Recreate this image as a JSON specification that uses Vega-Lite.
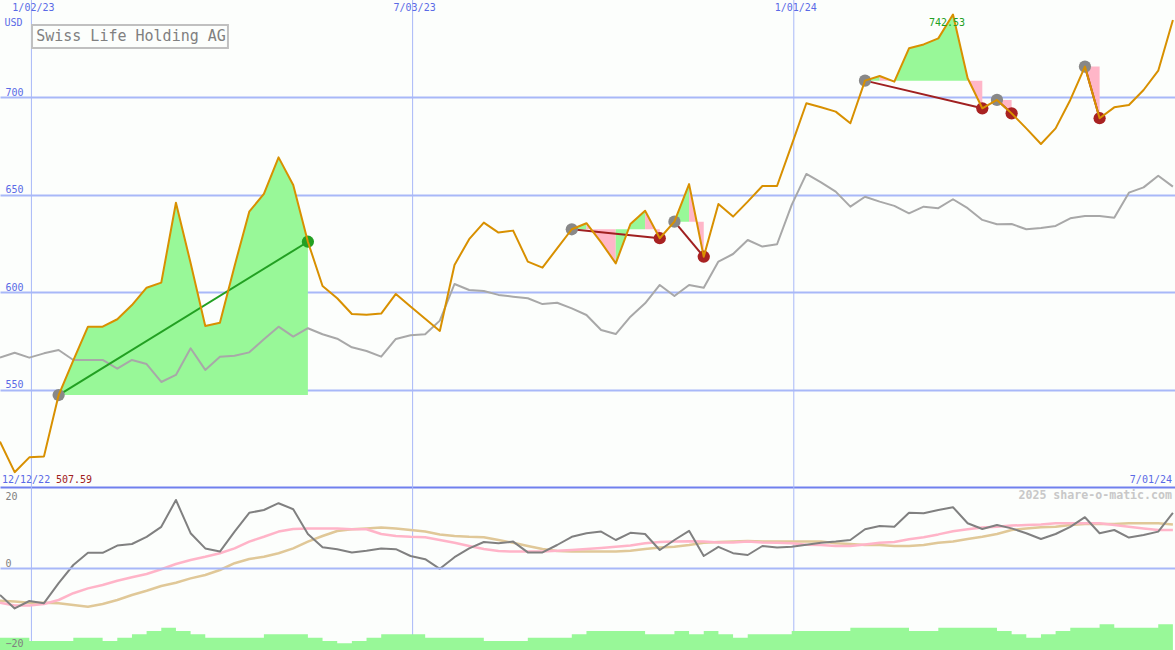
{
  "$schema": "https://vega.github.io/schema/vega-lite/v6.json",
  "width": 1175,
  "height": 650,
  "padding": 0,
  "autosize": {"type": "none"},
  "background": "#fcfefc",
  "config": {
    "view": {"stroke": null},
    "axis": {"labelFont": "DejaVu Sans Mono", "labelFontSize": 10, "labelColor": "#5a6ae6", "domain": false, "ticks": false, "titleFont": "DejaVu Sans Mono"},
    "text": {"font": "DejaVu Sans Mono"},
    "line": {"strokeJoin": "round"},
    "scale": {"continuousPadding": 0}
  },
  "datasets": {
    "main": [
      {"date": "2022-12-18", "p": 523.3, "cmp": 566.4, "m": -6.75, "ma1": -8.7, "ma2": -8.2, "vol": 12.3},
      {"date": "2022-12-25", "p": 507.59, "cmp": 568.9, "m": -10.1, "ma1": -9.4, "ma2": -8.4, "vol": 12.3},
      {"date": "2023-01-01", "p": 515.2, "cmp": 566.4, "m": -8.25, "ma1": -9.4, "ma2": -8.7, "vol": 9},
      {"date": "2023-01-08", "p": 515.7, "cmp": 568.6, "m": -8.8, "ma1": -9, "ma2": -8.7, "vol": 9},
      {"date": "2023-01-15", "p": 547.2, "cmp": 570.3, "m": -3.8, "ma1": -8, "ma2": -8.8, "vol": 9},
      {"date": "2023-01-22", "p": 565, "cmp": 565.2, "m": 0.75, "ma1": -6.3, "ma2": -9.25, "vol": 12.3},
      {"date": "2023-01-29", "p": 582.3, "cmp": 565.2, "m": 3.8, "ma1": -5.1, "ma2": -9.7, "vol": 12.3},
      {"date": "2023-02-05", "p": 582.3, "cmp": 565.2, "m": 3.8, "ma1": -4.25, "ma2": -9, "vol": 9},
      {"date": "2023-02-12", "p": 586.1, "cmp": 560.7, "m": 5.6, "ma1": -3.2, "ma2": -8, "vol": 12.3},
      {"date": "2023-02-19", "p": 593.4, "cmp": 565.2, "m": 6, "ma1": -2.3, "ma2": -6.75, "vol": 15.7},
      {"date": "2023-02-26", "p": 602.3, "cmp": 563.1, "m": 7.8, "ma1": -1.5, "ma2": -5.7, "vol": 19},
      {"date": "2023-03-05", "p": 604.9, "cmp": 553.9, "m": 10.3, "ma1": -0.3, "ma2": -4.5, "vol": 22.3},
      {"date": "2023-03-12", "p": 645.9, "cmp": 557.5, "m": 17, "ma1": 1, "ma2": -3.7, "vol": 19},
      {"date": "2023-03-19", "p": 615, "cmp": 571.2, "m": 8.7, "ma1": 2, "ma2": -2.6, "vol": 15.7},
      {"date": "2023-03-26", "p": 582.6, "cmp": 560.1, "m": 4.9, "ma1": 2.8, "ma2": -1.75, "vol": 12.3},
      {"date": "2023-04-02", "p": 584.3, "cmp": 566.9, "m": 4.1, "ma1": 3.7, "ma2": -0.5, "vol": 12.3},
      {"date": "2023-04-09", "p": 613.5, "cmp": 567.4, "m": 9.1, "ma1": 4.9, "ma2": 1.2, "vol": 12.3},
      {"date": "2023-04-16", "p": 641.3, "cmp": 569.1, "m": 13.8, "ma1": 6.6, "ma2": 2.25, "vol": 12.3},
      {"date": "2023-04-23", "p": 650.5, "cmp": 575.8, "m": 14.5, "ma1": 7.8, "ma2": 2.8, "vol": 15.7},
      {"date": "2023-04-30", "p": 669.2, "cmp": 582.3, "m": 16.2, "ma1": 9.1, "ma2": 3.7, "vol": 15.7},
      {"date": "2023-05-07", "p": 655, "cmp": 577.2, "m": 14.7, "ma1": 9.75, "ma2": 4.9, "vol": 15.7},
      {"date": "2023-05-14", "p": 625.9, "cmp": 581.5, "m": 8.5, "ma1": 9.9, "ma2": 6.6, "vol": 12.3},
      {"date": "2023-05-21", "p": 603.2, "cmp": 578.4, "m": 5.2, "ma1": 9.9, "ma2": 8, "vol": 9},
      {"date": "2023-05-28", "p": 596.9, "cmp": 576.1, "m": 4.7, "ma1": 9.9, "ma2": 9.25, "vol": 6.7},
      {"date": "2023-06-04", "p": 588.8, "cmp": 571.7, "m": 3.9, "ma1": 9.7, "ma2": 9.7, "vol": 9},
      {"date": "2023-06-11", "p": 588.4, "cmp": 569.8, "m": 4.3, "ma1": 9.7, "ma2": 9.9, "vol": 12.3},
      {"date": "2023-06-18", "p": 589, "cmp": 566.9, "m": 4.9, "ma1": 8.5, "ma2": 10.1, "vol": 15.7},
      {"date": "2023-06-25", "p": 599.1, "cmp": 576, "m": 4.7, "ma1": 8, "ma2": 9.9, "vol": 15.7},
      {"date": "2023-07-02", "p": 592.6, "cmp": 577.9, "m": 3, "ma1": 7.8, "ma2": 9.5, "vol": 15.7},
      {"date": "2023-07-09", "p": 586.4, "cmp": 578.4, "m": 2.2, "ma1": 7.7, "ma2": 9.1, "vol": 12.3},
      {"date": "2023-07-16", "p": 580.1, "cmp": 585.4, "m": -0.2, "ma1": 7, "ma2": 8.4, "vol": 12.3},
      {"date": "2023-07-23", "p": 614, "cmp": 604.2, "m": 2.7, "ma1": 6.3, "ma2": 8, "vol": 12.3},
      {"date": "2023-07-30", "p": 627.2, "cmp": 601.1, "m": 4.9, "ma1": 5.5, "ma2": 7.8, "vol": 12.3},
      {"date": "2023-08-06", "p": 635.7, "cmp": 600.6, "m": 6.5, "ma1": 4.75, "ma2": 7.7, "vol": 9},
      {"date": "2023-08-13", "p": 630.6, "cmp": 598.6, "m": 6.2, "ma1": 4.25, "ma2": 7, "vol": 9},
      {"date": "2023-08-20", "p": 631.6, "cmp": 597.7, "m": 6.6, "ma1": 4.1, "ma2": 6.3, "vol": 9},
      {"date": "2023-08-27", "p": 615.7, "cmp": 596.9, "m": 3.9, "ma1": 4.1, "ma2": 5.5, "vol": 12.3},
      {"date": "2023-09-03", "p": 612.6, "cmp": 593.9, "m": 3.9, "ma1": 4.1, "ma2": 4.75, "vol": 12.3},
      {"date": "2023-09-10", "p": 622.5, "cmp": 594.6, "m": 5.75, "ma1": 4.3, "ma2": 4.25, "vol": 12.3},
      {"date": "2023-09-17", "p": 632.3, "cmp": 591.7, "m": 7.8, "ma1": 4.5, "ma2": 4.1, "vol": 15.7},
      {"date": "2023-09-24", "p": 635.4, "cmp": 588.3, "m": 8.7, "ma1": 4.75, "ma2": 4.1, "vol": 19},
      {"date": "2023-10-01", "p": 625.6, "cmp": 580.6, "m": 9.1, "ma1": 5, "ma2": 4.1, "vol": 19},
      {"date": "2023-10-08", "p": 614.8, "cmp": 578.5, "m": 7, "ma1": 5.3, "ma2": 4.1, "vol": 19},
      {"date": "2023-10-15", "p": 635, "cmp": 587.4, "m": 8.8, "ma1": 5.6, "ma2": 4.3, "vol": 19},
      {"date": "2023-10-22", "p": 641.8, "cmp": 594.3, "m": 8.5, "ma1": 6.2, "ma2": 4.75, "vol": 15.7},
      {"date": "2023-10-29", "p": 627.7, "cmp": 603.7, "m": 4.5, "ma1": 6.5, "ma2": 5.1, "vol": 15.7},
      {"date": "2023-11-05", "p": 636.2, "cmp": 598, "m": 7, "ma1": 6.6, "ma2": 5.3, "vol": 19},
      {"date": "2023-11-12", "p": 655.5, "cmp": 603.7, "m": 9.3, "ma1": 6.7, "ma2": 5.75, "vol": 15.7},
      {"date": "2023-11-19", "p": 618.2, "cmp": 602.3, "m": 3, "ma1": 6.6, "ma2": 6.3, "vol": 19},
      {"date": "2023-11-26", "p": 645.3, "cmp": 615.7, "m": 5.3, "ma1": 6.4, "ma2": 6.5, "vol": 15.7},
      {"date": "2023-12-03", "p": 638.8, "cmp": 619.6, "m": 3.7, "ma1": 6.4, "ma2": 6.6, "vol": 12.3},
      {"date": "2023-12-10", "p": 646.5, "cmp": 626.8, "m": 3.25, "ma1": 6.6, "ma2": 6.75, "vol": 15.7},
      {"date": "2023-12-17", "p": 654.5, "cmp": 623.4, "m": 5.5, "ma1": 6.4, "ma2": 6.6, "vol": 15.7},
      {"date": "2023-12-24", "p": 654.5, "cmp": 624.6, "m": 5.1, "ma1": 6.3, "ma2": 6.6, "vol": 15.7},
      {"date": "2023-12-31", "p": 675.6, "cmp": 644.8, "m": 5.3, "ma1": 6.2, "ma2": 6.6, "vol": 19},
      {"date": "2024-01-07", "p": 697, "cmp": 660.7, "m": 5.8, "ma1": 5.8, "ma2": 6.6, "vol": 19},
      {"date": "2024-01-14", "p": 694.9, "cmp": 656.4, "m": 6.3, "ma1": 5.75, "ma2": 6.6, "vol": 19},
      {"date": "2024-01-21", "p": 692.7, "cmp": 651.6, "m": 6.6, "ma1": 5.5, "ma2": 6.2, "vol": 19},
      {"date": "2024-01-28", "p": 686.7, "cmp": 643.9, "m": 7, "ma1": 5.5, "ma2": 6, "vol": 22.3},
      {"date": "2024-02-04", "p": 708.6, "cmp": 649, "m": 9.7, "ma1": 5.9, "ma2": 5.75, "vol": 22.3},
      {"date": "2024-02-11", "p": 711, "cmp": 646.5, "m": 10.5, "ma1": 6.3, "ma2": 5.75, "vol": 22.3},
      {"date": "2024-02-18", "p": 708.1, "cmp": 644.3, "m": 10.3, "ma1": 6.5, "ma2": 5.5, "vol": 22.3},
      {"date": "2024-02-25", "p": 725.2, "cmp": 640.5, "m": 13.8, "ma1": 7.2, "ma2": 5.5, "vol": 19},
      {"date": "2024-03-03", "p": 727.2, "cmp": 643.9, "m": 13.7, "ma1": 7.7, "ma2": 5.75, "vol": 19},
      {"date": "2024-03-10", "p": 730.3, "cmp": 643.1, "m": 14.5, "ma1": 8.4, "ma2": 6.3, "vol": 22.3},
      {"date": "2024-03-17", "p": 742.53, "cmp": 647.7, "m": 15.2, "ma1": 9.2, "ma2": 6.6, "vol": 22.3},
      {"date": "2024-03-24", "p": 709.8, "cmp": 643.1, "m": 11.2, "ma1": 9.7, "ma2": 7.25, "vol": 22.3},
      {"date": "2024-03-31", "p": 694.4, "cmp": 637.1, "m": 9.75, "ma1": 10.1, "ma2": 7.8, "vol": 22.3},
      {"date": "2024-04-07", "p": 698.7, "cmp": 634.9, "m": 10.75, "ma1": 10.3, "ma2": 8.5, "vol": 19},
      {"date": "2024-04-14", "p": 691.8, "cmp": 635, "m": 9.9, "ma1": 10.6, "ma2": 9.5, "vol": 15.7},
      {"date": "2024-04-21", "p": 684.1, "cmp": 632.3, "m": 8.7, "ma1": 10.75, "ma2": 9.9, "vol": 12.3},
      {"date": "2024-04-28", "p": 676.1, "cmp": 633, "m": 7.25, "ma1": 10.9, "ma2": 10.2, "vol": 15.7},
      {"date": "2024-05-05", "p": 684.1, "cmp": 634, "m": 8.5, "ma1": 11.2, "ma2": 10.3, "vol": 19},
      {"date": "2024-05-12", "p": 698.7, "cmp": 637.9, "m": 10.3, "ma1": 11.2, "ma2": 10.75, "vol": 22.3},
      {"date": "2024-05-19", "p": 715.8, "cmp": 639.1, "m": 12.7, "ma1": 11.2, "ma2": 11, "vol": 22.3},
      {"date": "2024-05-26", "p": 689.3, "cmp": 639.1, "m": 8.7, "ma1": 11.2, "ma2": 11, "vol": 25.7},
      {"date": "2024-06-02", "p": 694.9, "cmp": 638.2, "m": 9.5, "ma1": 10.75, "ma2": 11, "vol": 22.3},
      {"date": "2024-06-09", "p": 696.1, "cmp": 651.1, "m": 7.6, "ma1": 10.3, "ma2": 11.2, "vol": 22.3},
      {"date": "2024-06-16", "p": 703.8, "cmp": 653.8, "m": 8.25, "ma1": 9.9, "ma2": 11.2, "vol": 22.3},
      {"date": "2024-06-23", "p": 713.7, "cmp": 659.8, "m": 9.1, "ma1": 9.5, "ma2": 11.2, "vol": 25.7},
      {"date": "2024-06-30", "p": 739.7, "cmp": 654.2, "m": 13.8, "ma1": 9.5, "ma2": 10.9, "vol": 25.7}
    ],
    "fills": [
      {"seg": "t1", "dir": "up", "base": 547.2, "date": "2023-01-15", "p": 547.2},
      {"seg": "t1", "dir": "up", "base": 547.2, "date": "2023-01-22", "p": 565},
      {"seg": "t1", "dir": "up", "base": 547.2, "date": "2023-01-29", "p": 582.3},
      {"seg": "t1", "dir": "up", "base": 547.2, "date": "2023-02-05", "p": 582.3},
      {"seg": "t1", "dir": "up", "base": 547.2, "date": "2023-02-12", "p": 586.1},
      {"seg": "t1", "dir": "up", "base": 547.2, "date": "2023-02-19", "p": 593.4},
      {"seg": "t1", "dir": "up", "base": 547.2, "date": "2023-02-26", "p": 602.3},
      {"seg": "t1", "dir": "up", "base": 547.2, "date": "2023-03-05", "p": 604.9},
      {"seg": "t1", "dir": "up", "base": 547.2, "date": "2023-03-12", "p": 645.9},
      {"seg": "t1", "dir": "up", "base": 547.2, "date": "2023-03-19", "p": 615},
      {"seg": "t1", "dir": "up", "base": 547.2, "date": "2023-03-26", "p": 582.6},
      {"seg": "t1", "dir": "up", "base": 547.2, "date": "2023-04-02", "p": 584.3},
      {"seg": "t1", "dir": "up", "base": 547.2, "date": "2023-04-09", "p": 613.5},
      {"seg": "t1", "dir": "up", "base": 547.2, "date": "2023-04-16", "p": 641.3},
      {"seg": "t1", "dir": "up", "base": 547.2, "date": "2023-04-23", "p": 650.5},
      {"seg": "t1", "dir": "up", "base": 547.2, "date": "2023-04-30", "p": 669.2},
      {"seg": "t1", "dir": "up", "base": 547.2, "date": "2023-05-07", "p": 655},
      {"seg": "t1", "dir": "up", "base": 547.2, "date": "2023-05-14", "p": 625.9},
      {"seg": "t2a", "dir": "up", "base": 632.3, "date": "2023-09-17", "p": 632.3},
      {"seg": "t2a", "dir": "up", "base": 632.3, "date": "2023-09-24", "p": 635.4},
      {"seg": "t2b", "dir": "down", "base": 632.3, "date": "2023-09-24", "p": 635.4},
      {"seg": "t2b", "dir": "down", "base": 632.3, "date": "2023-10-01", "p": 625.6},
      {"seg": "t2b", "dir": "down", "base": 632.3, "date": "2023-10-08", "p": 614.8},
      {"seg": "t2c", "dir": "up", "base": 632.3, "date": "2023-10-08", "p": 614.8},
      {"seg": "t2c", "dir": "up", "base": 632.3, "date": "2023-10-15", "p": 635},
      {"seg": "t2c", "dir": "up", "base": 632.3, "date": "2023-10-22", "p": 641.8},
      {"seg": "t2d", "dir": "down", "base": 632.3, "date": "2023-10-22", "p": 641.8},
      {"seg": "t2d", "dir": "down", "base": 632.3, "date": "2023-10-29", "p": 627.7},
      {"seg": "t3a", "dir": "up", "base": 636.2, "date": "2023-11-05", "p": 636.2},
      {"seg": "t3a", "dir": "up", "base": 636.2, "date": "2023-11-12", "p": 655.5},
      {"seg": "t3b", "dir": "down", "base": 636.2, "date": "2023-11-12", "p": 655.5},
      {"seg": "t3b", "dir": "down", "base": 636.2, "date": "2023-11-19", "p": 618.2},
      {"seg": "t4a", "dir": "up", "base": 708.6, "date": "2024-02-04", "p": 708.6},
      {"seg": "t4a", "dir": "up", "base": 708.6, "date": "2024-02-11", "p": 711},
      {"seg": "t4b", "dir": "down", "base": 708.6, "date": "2024-02-11", "p": 711},
      {"seg": "t4b", "dir": "down", "base": 708.6, "date": "2024-02-18", "p": 708.1},
      {"seg": "t4c", "dir": "up", "base": 708.6, "date": "2024-02-18", "p": 708.1},
      {"seg": "t4c", "dir": "up", "base": 708.6, "date": "2024-02-25", "p": 725.2},
      {"seg": "t4c", "dir": "up", "base": 708.6, "date": "2024-03-03", "p": 727.2},
      {"seg": "t4c", "dir": "up", "base": 708.6, "date": "2024-03-10", "p": 730.3},
      {"seg": "t4c", "dir": "up", "base": 708.6, "date": "2024-03-17", "p": 742.53},
      {"seg": "t4c", "dir": "up", "base": 708.6, "date": "2024-03-24", "p": 709.8},
      {"seg": "t4d", "dir": "down", "base": 708.6, "date": "2024-03-24", "p": 709.8},
      {"seg": "t4d", "dir": "down", "base": 708.6, "date": "2024-03-31", "p": 694.4},
      {"seg": "t5", "dir": "down", "base": 698.7, "date": "2024-04-07", "p": 698.7},
      {"seg": "t5", "dir": "down", "base": 698.7, "date": "2024-04-14", "p": 691.8},
      {"seg": "t6", "dir": "down", "base": 715.8, "date": "2024-05-19", "p": 715.8},
      {"seg": "t6", "dir": "down", "base": 715.8, "date": "2024-05-26", "p": 689.3}
    ],
    "trades": [
      {"d1": "2023-01-15", "p1": 547.2, "d2": "2023-05-14", "p2": 625.9, "res": "win"},
      {"d1": "2023-09-17", "p1": 632.3, "d2": "2023-10-29", "p2": 627.7, "res": "loss"},
      {"d1": "2023-11-05", "p1": 636.2, "d2": "2023-11-19", "p2": 618.2, "res": "loss"},
      {"d1": "2024-02-04", "p1": 708.6, "d2": "2024-03-31", "p2": 694.4, "res": "loss"},
      {"d1": "2024-04-07", "p1": 698.7, "d2": "2024-04-14", "p2": 691.8, "res": "loss"},
      {"d1": "2024-05-19", "p1": 715.8, "d2": "2024-05-26", "p2": 689.3, "res": "loss"}
    ],
    "marks": [
      {"date": "2023-01-15", "p": 547.2, "kind": "entry"},
      {"date": "2023-05-14", "p": 625.9, "kind": "win"},
      {"date": "2023-09-17", "p": 632.3, "kind": "entry"},
      {"date": "2023-10-29", "p": 627.7, "kind": "loss"},
      {"date": "2023-11-05", "p": 636.2, "kind": "entry"},
      {"date": "2023-11-19", "p": 618.2, "kind": "loss"},
      {"date": "2024-02-04", "p": 708.6, "kind": "entry"},
      {"date": "2024-03-31", "p": 694.4, "kind": "loss"},
      {"date": "2024-04-07", "p": 698.7, "kind": "entry"},
      {"date": "2024-04-14", "p": 691.8, "kind": "loss"},
      {"date": "2024-05-19", "p": 715.8, "kind": "entry"},
      {"date": "2024-05-26", "p": 689.3, "kind": "loss"}
    ],
    "ticks": [
      {"date": "2023-01-02", "label": "1/02/23"},
      {"date": "2023-07-03", "label": "7/03/23"},
      {"date": "2024-01-01", "label": "1/01/24"}
    ]
  },
  "layer": [
    {
      "data": {"name": "ticks"},
      "mark": {"type": "rule", "color": "#a8b8f8", "strokeWidth": 1},
      "encoding": {
        "x": {
          "field": "date",
          "type": "temporal",
          "scale": {"type": "utc", "padding": 0, "domain": [1671321600000, 1719792000000]},
          "axis": null
        }
      }
    },
    {
      "data": {"name": "main"},
      "mark": {"type": "area", "interpolate": "step-after", "color": "#98f898"},
      "encoding": {
        "x": {"field": "date", "type": "temporal", "axis": null},
        "y": {"field": "vol", "type": "quantitative", "scale": {"domain": [0, 650], "nice": false, "zero": true}, "axis": null}
      }
    },
    {
      "data": {"name": "main"},
      "layer": [
        {
          "mark": {"type": "line", "color": "#e0c898", "strokeWidth": 2.5},
          "encoding": {
            "x": {"field": "date", "type": "temporal", "axis": null},
            "y": {
              "field": "ma2", "type": "quantitative",
              "scale": {"domain": [-20.5, 142], "nice": false, "zero": false},
              "axis": {
                "orient": "left",
                "values": [20, 0, -20],
                "grid": true,
                "gridColor": "#a8b8f8",
                "gridWidth": 2,
                "gridOpacity": {"condition": {"test": "datum.value == 0", "value": 1}, "value": 0},
                "labelAlign": "left",
                "labelPadding": -5,
                "labelBaseline": "alphabetic",
                "labelOffset": {"condition": {"test": "datum.value == 20", "value": 11}, "value": -2},
                "labelColor": "#808080",
                "title": null,
                "zindex": 1
              }
            }
          }
        },
        {
          "mark": {"type": "line", "color": "#ffb4c8", "strokeWidth": 2.5},
          "encoding": {
            "x": {"field": "date", "type": "temporal", "axis": null},
            "y": {"field": "ma1", "type": "quantitative"}
          }
        },
        {
          "mark": {"type": "line", "color": "#808080", "strokeWidth": 2},
          "encoding": {
            "x": {"field": "date", "type": "temporal", "axis": null},
            "y": {"field": "m", "type": "quantitative"}
          }
        }
      ]
    },
    {
      "layer": [
        {
          "data": {"name": "fills"},
          "mark": {"type": "area", "opacity": 1},
          "encoding": {
            "x": {"field": "date", "type": "temporal", "axis": null},
            "y": {"field": "p", "type": "quantitative", "stack": null},
            "y2": {"field": "base"},
            "color": {"field": "dir", "type": "nominal", "scale": {"domain": ["up", "down"], "range": ["#98f898", "#ffb6c8"]}, "legend": null},
            "detail": {"field": "seg"}
          }
        },
        {
          "data": {"name": "main"},
          "mark": {"type": "line", "color": "#a8a8a8", "strokeWidth": 2},
          "encoding": {
            "x": {"field": "date", "type": "temporal", "axis": null},
            "y": {"field": "cmp", "type": "quantitative"}
          }
        },
        {
          "data": {"name": "trades"},
          "mark": {"type": "rule", "strokeWidth": 2},
          "encoding": {
            "x": {"field": "d1", "type": "temporal", "axis": null},
            "x2": {"field": "d2"},
            "y": {"field": "p1", "type": "quantitative"},
            "y2": {"field": "p2"},
            "color": {"field": "res", "type": "nominal", "scale": {"domain": ["win", "loss"], "range": ["#22a022", "#a02020"]}, "legend": null}
          }
        },
        {
          "data": {"name": "marks"},
          "mark": {"type": "point", "filled": true, "opacity": 1, "size": 150, "shape": "circle"},
          "encoding": {
            "x": {"field": "date", "type": "temporal", "axis": null},
            "y": {"field": "p", "type": "quantitative"},
            "color": {"field": "kind", "type": "nominal", "scale": {"domain": ["entry", "win", "loss"], "range": ["#888888", "#22a022", "#a82222"]}, "legend": null}
          }
        },
        {
          "data": {"name": "main"},
          "mark": {"type": "line", "color": "#d89000", "strokeWidth": 2},
          "encoding": {
            "x": {"field": "date", "type": "temporal", "axis": null},
            "y": {
              "field": "p", "type": "quantitative",
              "scale": {"domain": [416.3, 750], "nice": false, "zero": false},
              "axis": {
                "orient": "left",
                "values": [500, 550, 600, 650, 700],
                "labelExpr": "datum.value == 500 ? '' : datum.label",
                "grid": true,
                "gridColor": {"condition": {"test": "datum.value == 500", "value": "#7080ee"}, "value": "#a8b8f8"},
                "gridWidth": 2,
                "labelAlign": "left",
                "labelPadding": -5,
                "labelBaseline": "alphabetic",
                "labelOffset": -2,
                "title": "USD",
                "titleAngle": 0,
                "titleAlign": "left",
                "titleBaseline": "alphabetic",
                "titleX": 4,
                "titleY": 25,
                "titleColor": "#5a6ae6",
                "titleFontSize": 10,
                "titleFontWeight": "normal"
              }
            }
          }
        },
        {
          "data": {"name": "ticks"},
          "mark": {"type": "text", "color": "#5a6ae6", "fontSize": 10, "align": "center", "baseline": "top", "dx": 2, "dy": 3},
          "encoding": {
            "x": {"field": "date", "type": "temporal", "axis": null},
            "y": {"datum": 750, "type": "quantitative"},
            "text": {"field": "label"}
          }
        },
        {
          "data": {"values": [{"date": "2024-03-17", "p": 742.53}]},
          "mark": {"type": "text", "color": "#22a022", "fontSize": 10, "align": "center", "baseline": "alphabetic", "dx": -6, "dy": 11},
          "encoding": {
            "x": {"field": "date", "type": "temporal", "axis": null},
            "y": {"field": "p", "type": "quantitative"},
            "text": {"field": "p", "type": "quantitative", "format": ".2f"}
          }
        },
        {
          "data": {"values": [{"from": "2023-01-02T07:00:00Z", "to": "2023-04-05T20:00:00Z", "top": 737.2, "bottom": 725.4}]},
          "mark": {"type": "rect", "fill": "#fcfefc", "stroke": "#c0c0c0", "strokeWidth": 2},
          "encoding": {
            "x": {"field": "from", "type": "temporal", "axis": null},
            "x2": {"field": "to"},
            "y": {"field": "top", "type": "quantitative"},
            "y2": {"field": "bottom"}
          }
        },
        {
          "data": {"values": [{"date": "2023-02-18T13:00:00Z", "p": 731.3, "label": "Swiss Life Holding AG"}]},
          "mark": {"type": "text", "color": "#808080", "fontSize": 15, "align": "center", "baseline": "middle"},
          "encoding": {
            "x": {"field": "date", "type": "temporal", "axis": null},
            "y": {"field": "p", "type": "quantitative"},
            "text": {"field": "label"}
          }
        },
        {
          "data": {"values": [{"date": "2022-12-18", "p": 500, "label": "12/12/22"}]},
          "mark": {"type": "text", "color": "#5a6ae6", "fontSize": 10, "align": "left", "baseline": "alphabetic", "dx": 2, "dy": -4},
          "encoding": {
            "x": {"field": "date", "type": "temporal", "axis": null},
            "y": {"field": "p", "type": "quantitative"},
            "text": {"field": "label"}
          }
        },
        {
          "data": {"values": [{"date": "2022-12-18", "p": 500, "label": "507.59"}]},
          "mark": {"type": "text", "color": "#a02020", "fontSize": 10, "align": "left", "baseline": "alphabetic", "dx": 56, "dy": -4},
          "encoding": {
            "x": {"field": "date", "type": "temporal", "axis": null},
            "y": {"field": "p", "type": "quantitative"},
            "text": {"field": "label"}
          }
        },
        {
          "data": {"values": [{"date": "2024-07-01", "p": 500, "label": "7/01/24"}]},
          "mark": {"type": "text", "color": "#5a6ae6", "fontSize": 10, "align": "right", "baseline": "alphabetic", "dx": -3, "dy": -4},
          "encoding": {
            "x": {"field": "date", "type": "temporal", "axis": null},
            "y": {"field": "p", "type": "quantitative"},
            "text": {"field": "label"}
          }
        },
        {
          "data": {"values": [{"date": "2024-07-01", "p": 500, "label": "2025 share-o-matic.com"}]},
          "mark": {"type": "text", "color": "#c8c8c8", "fontSize": 11.6, "fontWeight": "bold", "align": "right", "baseline": "alphabetic", "dx": -3, "dy": 12},
          "encoding": {
            "x": {"field": "date", "type": "temporal", "axis": null},
            "y": {"field": "p", "type": "quantitative"},
            "text": {"field": "label"}
          }
        }
      ],
      "resolve": {"scale": {"color": "independent"}}
    }
  ],
  "resolve": {"scale": {"y": "independent"}, "axis": {"y": "independent"}}
}
